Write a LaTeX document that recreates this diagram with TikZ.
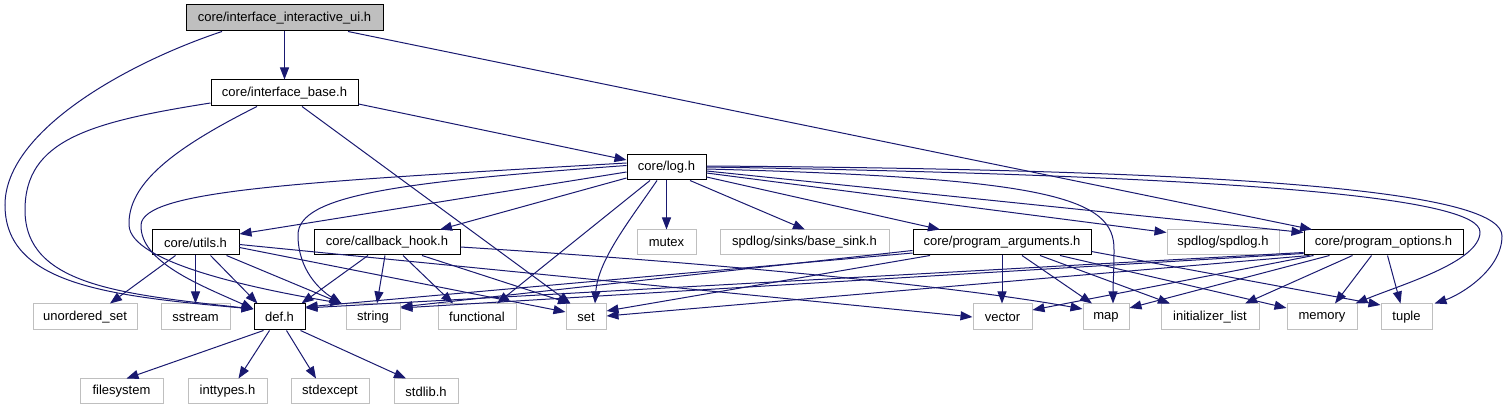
\documentclass[tikz,border=0pt]{standalone}
\usepackage{fontspec}
\setmainfont{Liberation Sans}
\usetikzlibrary{arrows.meta}
\definecolor{edgeblue}{HTML}{191970}
\definecolor{greyborder}{HTML}{BFBFBF}
\definecolor{greyfill}{HTML}{BFBFBF}
\tikzset{
  inc/.style={draw, black, line width=1pt, inner sep=0pt, fill=white,
    font=\fontsize{13}{15}\selectfont},
  ext/.style={inc, draw=greyborder},
  cur/.style={inc, fill=greyfill},
  dep/.style={draw=edgeblue, line width=1pt, -{Triangle[length=12pt,width=9pt]}},
}
\begin{document}
\begin{tikzpicture}[x=1pt,y=-1pt]
\useasboundingbox (0,0) rectangle (1510,411);
% nodes
\node[cur, minimum width=197pt, minimum height=26pt] (ui) at (284.5,18) {core/interface\_interactive\_ui.h};
\node[inc, minimum width=147pt, minimum height=26pt] (ib) at (284.5,93) {core/interface\_base.h};
\node[inc, minimum width=79pt, minimum height=25pt] (log) at (666.5,167.5) {core/log.h};
% row 2
\node[inc, minimum width=87pt, minimum height=25pt] (utils) at (195.5,242.5) {core/utils.h};
\node[inc, minimum width=146pt, minimum height=25pt] (cb) at (387,242.5) {core/callback\_hook.h};
\node[ext, minimum width=59pt, minimum height=25pt] (mutex) at (666.5,242.5) {mutex};
\node[ext, minimum width=169pt, minimum height=25pt] (sink) at (804.5,242.5) {spdlog/sinks/base\_sink.h};
\node[inc, minimum width=178pt, minimum height=25pt] (pargs) at (1002,242.5) {core/program\_arguments.h};
\node[ext, minimum width=112pt, minimum height=25pt] (spd) at (1223,242.5) {spdlog/spdlog.h};
\node[inc, minimum width=159pt, minimum height=25pt] (popts) at (1383.5,242.5) {core/program\_options.h};
% row 3
\node[ext, minimum width=104pt, minimum height=26pt] (uset) at (85,317) {unordered\_set};
\node[ext, minimum width=69pt, minimum height=26pt] (sstream) at (195.5,317) {sstream};
\node[inc, minimum width=51pt, minimum height=26pt] (def) at (279.5,317) {def.h};
\node[ext, minimum width=54pt, minimum height=26pt] (string) at (373,317) {string};
\node[ext, minimum width=78pt, minimum height=26pt] (func) at (477,317) {functional};
\node[ext, minimum width=40pt, minimum height=26pt] (set) at (586,317) {set};
\node[ext, minimum width=59pt, minimum height=26pt] (vector) at (1002.5,317) {vector};
\node[ext, minimum width=46pt, minimum height=26pt] (map) at (1106,317) {map};
\node[ext, minimum width=98pt, minimum height=26pt] (ilist) at (1210,317) {initializer\_list};
\node[ext, minimum width=70pt, minimum height=26pt] (memory) at (1322,317) {memory};
\node[ext, minimum width=51pt, minimum height=26pt] (tuple) at (1406.5,317) {tuple};
% row 4
\node[ext, minimum width=83pt, minimum height=25pt] (fs) at (121.5,391.5) {filesystem};
\node[ext, minimum width=79pt, minimum height=25pt] (inttypes) at (227.5,391.5) {inttypes.h};
\node[ext, minimum width=78pt, minimum height=25pt] (stdexcept) at (330,391.5) {stdexcept};
\node[ext, minimum width=64pt, minimum height=25pt] (stdlib) at (426,391.5) {stdlib.h};

% ---- edges from interface_interactive_ui.h
\draw[dep] (ui.south) -- (ib.north);
\draw[dep] ([xshift=-62.5pt]ui.south) .. controls (130,62) and (5,130) .. (5,205)
  .. controls (5,285) and (110,296) .. ([yshift=8pt]def.west);
\draw[dep] ([xshift=63.5pt]ui.south) -- ([xshift=-71.5pt]popts.north);

% ---- edges from interface_base.h
\draw[dep] ([yshift=-10pt]ib.west) .. controls (90,122) and (25,140) .. (25,210)
  .. controls (25,285) and (120,294) .. ([yshift=8pt]def.west);
\draw[dep] ([xshift=-27.5pt]ib.south) .. controls (170,150) and (128,185) .. (129,225)
  .. controls (130,262) and (250,288) .. ([xshift=-3pt]string.north west);
\draw[dep] ([xshift=17.5pt]ib.south) -- ([xshift=5pt]set.north west);
\draw[dep] ([yshift=-11pt]ib.east) -- ([yshift=7.5pt]log.west);

% ---- edges from log.h
\draw[dep] ([yshift=-4.5pt]log.west) -- ([yshift=8.5pt]utils.east);
\draw[dep] ([yshift=-10.5pt]log.west) -- ([xshift=53pt]cb.north);
\draw[dep] ([yshift=2pt]log.west) .. controls (400,182) and (298,195) .. (298,235)
  .. controls (298,270) and (320,290) .. ([xshift=-4pt]string.north west);
\draw[dep] ([yshift=4.5pt]log.west) .. controls (300,182) and (143,190) .. (141,225)
  .. controls (140,262) and (200,285) .. ([yshift=8pt]def.west);
\draw[dep] (log.south) -- (mutex.north);
\draw[dep] ([xshift=23.5pt]log.south) -- ([xshift=0.5pt]sink.north);
\draw[dep] ([yshift=-9.5pt]log.east) -- ([xshift=-62pt]pargs.north);
\draw[dep] ([yshift=-5.5pt]log.east) -- ([yshift=10pt]spd.west);
\draw[dep] ([yshift=-3.5pt]log.east) -- ([yshift=10pt]popts.west);
\draw[dep] ([yshift=-1.5pt]log.east) .. controls (1050,178) and (1115,198) .. (1114,250)
  .. controls (1114,270) and (1113,285) .. ([xshift=7pt]map.north);
\draw[dep] ([yshift=0.5pt]log.east) .. controls (1250,176) and (1480,198) .. (1480,232)
  .. controls (1480,262) and (1400,285) .. ([xshift=-2pt]memory.north east);
\draw[dep] ([yshift=1.5pt]log.east) .. controls (1300,170) and (1502,196) .. (1502,236)
  .. controls (1502,270) and (1460,295) .. ([xshift=2pt]tuple.north east);
\draw[dep] ([xshift=-16.5pt]log.south) -- ([xshift=20pt]func.north);
\draw[dep] ([xshift=-9.5pt]log.south) .. controls (630,220) and (598,260) .. ([xshift=9pt]set.north);

% ---- edges from core/utils.h
\draw[dep] ([xshift=-20pt]utils.south) -- ([xshift=25pt]uset.north);
\draw[dep] (utils.south) -- (sstream.north);
\draw[dep] ([xshift=15pt]utils.south) -- ([xshift=-22pt]def.north);
\draw[dep] ([xshift=31pt]utils.south) -- ([xshift=-4pt]string.north west);
\draw[dep] ([yshift=-5pt]utils.east) -- ([yshift=5pt]set.west);
\draw[dep] ([yshift=-2pt]utils.east) -- ([yshift=0pt]vector.west);

% ---- edges from core/callback_hook.h
\draw[dep] ([xshift=-19pt]cb.south) -- ([xshift=-4pt]def.north east);
\draw[dep] ([xshift=-2pt]cb.south) -- ([xshift=4pt]string.north);
\draw[dep] ([xshift=16pt]cb.south) -- ([xshift=-24pt]func.north);
\draw[dep] ([xshift=35pt]cb.south) -- ([xshift=-16pt]set.north);
\draw[dep] ([yshift=-4.5pt]cb.east) .. controls (700,262) and (950,285) .. ([yshift=8pt]map.west);

% ---- edges from core/program_arguments.h
\draw[dep] ([yshift=-10.5pt]pargs.west) -- ([yshift=10pt]def.east);
\draw[dep] ([yshift=-8pt]pargs.west) -- ([yshift=10pt]string.east);
\draw[dep] ([xshift=-72pt]pargs.south) -- ([yshift=6pt]set.east);
\draw[dep] (pargs.south) -- ([xshift=-0.5pt]vector.north);
\draw[dep] ([xshift=20pt]pargs.south) -- ([xshift=-14pt]map.north);
\draw[dep] ([xshift=38pt]pargs.south) -- ([xshift=-40pt]ilist.north);
\draw[dep] ([xshift=58pt]pargs.south) -- ([yshift=9pt]memory.west);
\draw[dep] ([yshift=-9pt]pargs.east) -- ([yshift=12pt]tuple.west);

% ---- edges from core/program_options.h
\draw[dep] ([yshift=-10pt]popts.west) -- ([yshift=9pt]def.east);
\draw[dep] ([yshift=-11pt]popts.west) -- ([yshift=9pt]string.east);
\draw[dep] ([xshift=-74pt]popts.south) -- ([yshift=1pt]set.east);
\draw[dep] ([xshift=-70pt]popts.south) -- ([yshift=7pt]vector.east);
\draw[dep] ([xshift=-54pt]popts.south) -- ([yshift=9pt]map.east);
\draw[dep] ([xshift=-31pt]popts.south) -- ([xshift=35pt]ilist.north);
\draw[dep] ([xshift=-12pt]popts.south) -- ([xshift=13pt]memory.north);
\draw[dep] ([xshift=4pt]popts.south) -- ([xshift=-6pt]tuple.north);

% ---- edges from def.h
\draw[dep] ([xshift=-16pt]def.south) -- ([xshift=5pt]fs.north);
\draw[dep] ([xshift=-10pt]def.south) -- ([xshift=11pt]inttypes.north);
\draw[dep] ([xshift=7pt]def.south) -- ([xshift=-14pt]stdexcept.north);
\draw[dep] ([xshift=21pt]def.south) -- ([xshift=-20pt]stdlib.north);
\end{tikzpicture}
\end{document}
